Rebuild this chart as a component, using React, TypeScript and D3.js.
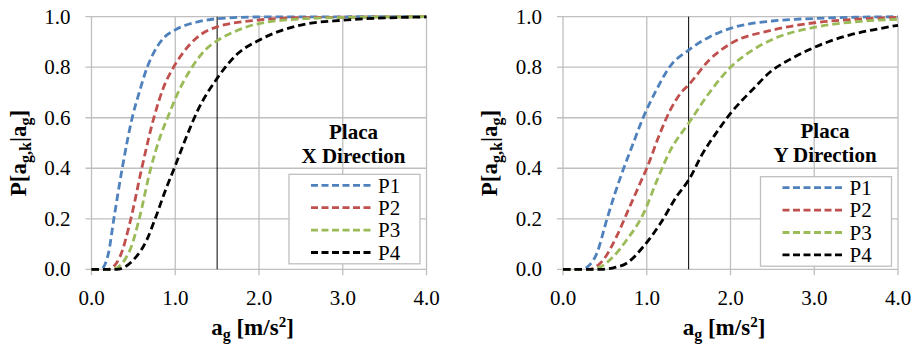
import * as d3 from "d3";

type Pt = [number, number];

const SERIES = ["P1", "P2", "P3", "P4"];
const COLORS = ["#4f81bd", "#c0504d", "#9bbb59", "#000000"];
const X_TICKS = [0, 1, 2, 3, 4];
const Y_TICKS = [0, 0.2, 0.4, 0.6, 0.8, 1.0];
const MARK_X = 1.5;

// X direction
const xP1: Pt[] = [[0, 0], [0.11, 0], [0.2, 0.06], [0.267, 0.2], [0.367, 0.4], [0.486, 0.6], [0.57, 0.7], [0.665, 0.8], [0.75, 0.862], [0.86, 0.915], [1.0, 0.948], [1.25, 0.978], [1.5, 0.992], [2.0, 0.999], [4.0, 1.0]];
const xP2: Pt[] = [[0, 0], [0.2, 0], [0.34, 0.05], [0.47, 0.2], [0.6, 0.4], [0.745, 0.6], [0.86, 0.72], [0.98, 0.8], [1.1, 0.86], [1.25, 0.915], [1.5, 0.96], [2.0, 0.987], [2.5, 0.996], [4.0, 1.0]];
const xP3: Pt[] = [[0, 0], [0.25, 0], [0.46, 0.077], [0.57, 0.2], [0.7, 0.39], [0.82, 0.525], [0.92, 0.61], [1.02, 0.69], [1.2, 0.8], [1.37, 0.872], [1.5, 0.905], [1.65, 0.932], [2.0, 0.973], [2.5, 0.991], [3.0, 0.997], [4.0, 1.0]];
const xP4: Pt[] = [[0, 0], [0.3, 0], [0.5, 0.037], [0.66, 0.116], [0.76, 0.2], [0.88, 0.31], [1.0, 0.41], [1.14, 0.53], [1.27, 0.63], [1.5, 0.756], [1.75, 0.855], [2.0, 0.907], [2.5, 0.967], [3.0, 0.986], [3.5, 0.995], [4.0, 0.999]];

// Y direction
const yP1: Pt[] = [[0, 0], [0.22, 0], [0.3, 0.012], [0.4, 0.06], [0.526, 0.2], [0.62, 0.3], [0.725, 0.4], [0.84, 0.5], [0.956, 0.6], [1.1, 0.7], [1.27, 0.8], [1.5, 0.868], [1.75, 0.92], [2.0, 0.954], [2.5, 0.983], [3.0, 0.993], [3.5, 0.998], [4.0, 1.0]];
const yP2: Pt[] = [[0, 0], [0.3, 0], [0.48, 0.037], [0.64, 0.13], [0.78, 0.235], [0.92, 0.34], [1.0, 0.4], [1.16, 0.54], [1.28, 0.63], [1.4, 0.695], [1.5, 0.73], [1.75, 0.83], [2.0, 0.893], [2.5, 0.947], [3.0, 0.976], [3.5, 0.99], [4.0, 0.997]];
const yP3: Pt[] = [[0, 0], [0.35, 0], [0.6, 0.05], [0.76, 0.116], [0.96, 0.22], [1.12, 0.35], [1.28, 0.47], [1.5, 0.578], [1.75, 0.7], [2.0, 0.8], [2.25, 0.865], [2.5, 0.91], [3.0, 0.958], [3.5, 0.98], [4.0, 0.99]];
const yP4: Pt[] = [[0, 0], [0.45, 0], [0.6, 0.006], [0.76, 0.024], [0.96, 0.09], [1.16, 0.18], [1.36, 0.29], [1.5, 0.353], [1.67, 0.46], [1.83, 0.54], [2.0, 0.617], [2.28, 0.717], [2.48, 0.783], [2.7, 0.829], [2.93, 0.868], [3.17, 0.901], [3.43, 0.928], [3.75, 0.951], [4.0, 0.966]];

const SERIF = { fontFamily: '"Liberation Serif"' };
const W = 335;
const TOP = 16.7;
const BOTTOM = 269.3;

interface PanelProps {
  left: number;
  dir: string;
  data: Pt[][];
  legendTop: number;
  titleY: number;
}

function Panel({ left, dir, data, legendTop, titleY }: PanelProps) {
  const x = d3.scaleLinear().domain([0, 4]).range([left, left + W]);
  const y = d3.scaleLinear().domain([0, 1]).range([BOTTOM, TOP]);
  const fmt = d3.format(".1f");
  const line = d3
    .line<Pt>()
    .x((d) => x(d[0]))
    .y((d) => y(d[1]))
    .curve(d3.curveMonotoneX);

  const right = left + W;
  const lgW = 131;
  const lgX = right - 6.5 - lgW;
  const grid = "#bfbfbf";

  return (
    <g fontFamily="Liberation Serif">
      {/* gridlines */}
      {Y_TICKS.map((t) => (
        <line key={"h" + t} x1={left - 6} x2={right} y1={y(t)} y2={y(t)} stroke={grid} strokeWidth={1.3} />
      ))}
      {X_TICKS.map((t) => (
        <line key={"v" + t} x1={x(t)} x2={x(t)} y1={TOP} y2={BOTTOM + 6} stroke={grid} strokeWidth={1.3} />
      ))}
      {/* tick labels */}
      {Y_TICKS.map((t) => (
        <text key={"yl" + t} x={left - 21} y={y(t)} dy="0.34em" textAnchor="end" fontSize={21} style={SERIF}>
          {fmt(t)}
        </text>
      ))}
      {X_TICKS.map((t) => (
        <text key={"xl" + t} x={x(t)} y={305} textAnchor="middle" fontSize={21} style={SERIF}>
          {fmt(t)}
        </text>
      ))}
      {/* reference line */}
      <line x1={x(MARK_X)} x2={x(MARK_X)} y1={y(1)} y2={y(0)} stroke="#000" strokeWidth={1} />
      {/* curves */}
      {data.map((d, i) => (
        <path
          key={SERIES[i]}
          d={line(d) ?? ""}
          fill="none"
          stroke={COLORS[i]}
          strokeWidth={2.8}
          strokeDasharray="7.5,4"
        />
      ))}
      {/* title */}
      <text x={left + 262} y={titleY} textAnchor="middle" fontWeight="bold" fontSize={21} style={SERIF}>
        Placa
      </text>
      <text x={left + 262} y={titleY + 24} textAnchor="middle" fontWeight="bold" fontSize={21} style={SERIF}>
        {dir} Direction
      </text>
      {/* legend */}
      <rect x={lgX} y={legendTop} width={lgW} height={89.5} fill="#fff" stroke={grid} strokeWidth={1.3} />
      {SERIES.map((s, i) => {
        const cy = legendTop + 11 + i * 22.4;
        return (
          <g key={"lg" + s}>
            <line x1={lgX + 22} x2={lgX + 84} y1={cy} y2={cy} stroke={COLORS[i]} strokeWidth={2.8} strokeDasharray="7,3.5" />
            <text x={lgX + 89} y={cy} dy="0.35em" fontSize={21} style={SERIF}>
              {s}
            </text>
          </g>
        );
      })}
      {/* axis titles */}
      <text x={left + 161} y={335} textAnchor="middle" fontWeight="bold" fontSize={23} style={SERIF}>
        a<tspan fontSize={16} dy={5}>g</tspan>
        <tspan dy={-5}> [m/s</tspan>
        <tspan fontSize={15} dy={-8}>2</tspan>
        <tspan dy={8}>]</tspan>
      </text>
      <text
        transform={`translate(${left - 66},153) rotate(-90)`}
        textAnchor="middle"
        fontWeight="bold"
        fontSize={23}
        style={SERIF}
      >
        P[a<tspan fontSize={16} dy={5}>g,k</tspan>
        <tspan dy={-5}>|a</tspan>
        <tspan fontSize={16} dy={5}>g</tspan>
        <tspan dy={-5}>]</tspan>
      </text>
    </g>
  );
}

export default function App() {
  return (
    <svg
      width={920}
      height={347}
      style={{ display: "block", position: "absolute", left: 0, top: 0, background: "#fff" }}
    >
      <Panel left={91.5} dir="X" data={[xP1, xP2, xP3, xP4]} legendTop={174.3} titleY={139.3} />
      <Panel left={563} dir="Y" data={[yP1, yP2, yP3, yP4]} legendTop={176.7} titleY={137.5} />
    </svg>
  );
}
